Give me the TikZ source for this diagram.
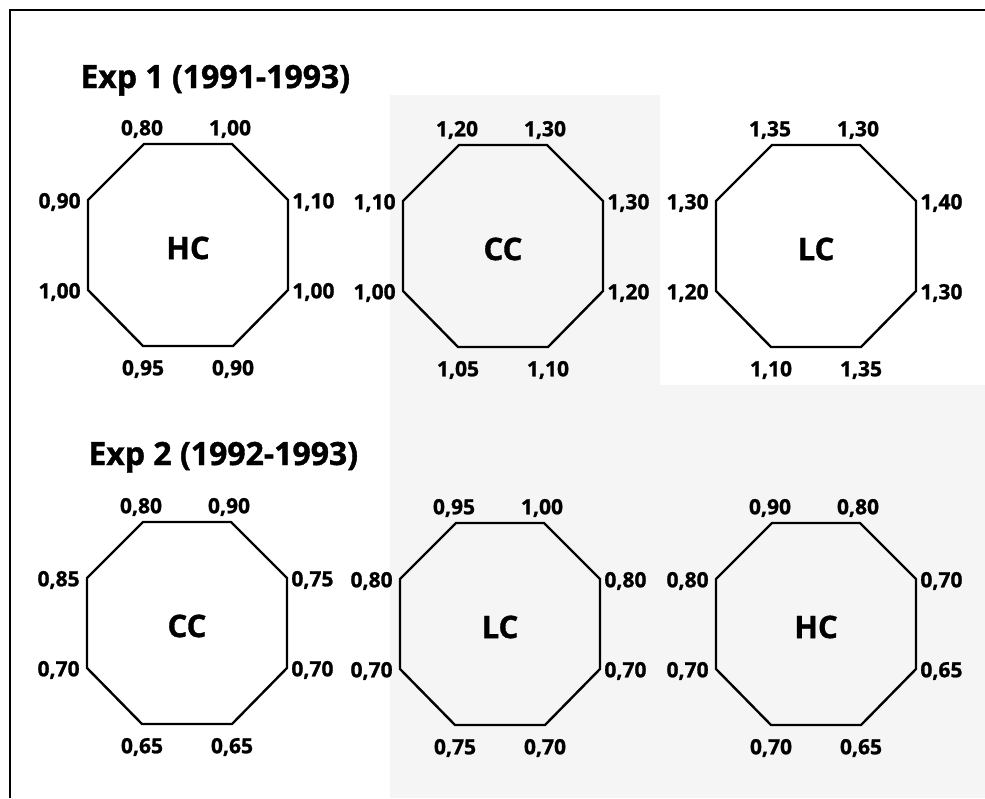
\documentclass[tikz,border=0pt]{standalone}
\usepackage{fontspec}
\setmainfont{Open Sans}[BoldFeatures={FakeBold=1.2}]
\tikzset{
  octline/.style={draw=black, line width=1.2pt, line join=miter},
  cname/.style={font=\bfseries\fontsize{15.5}{18}\selectfont, inner sep=0pt},
  num/.style={font=\bfseries\fontsize{10.5}{12}\selectfont, inner sep=0pt},
  ttl/.style={font=\bfseries\fontsize{16}{19}\selectfont, inner sep=0pt, anchor=base west},
  framel/.style={draw=black, line width=1.4pt},
  speck/.style={fill=black!4, draw=none}
}
\newcommand\octagon[4]{%
  \begin{scope}[shift={(#2,#3)}]
    \coordinate (#1-1) at (-44,-101);
    \coordinate (#1-2) at (44,-101);
    \coordinate (#1-3) at (100,-45);
    \coordinate (#1-4) at (100,45);
    \coordinate (#1-5) at (45,101);
    \coordinate (#1-6) at (-45,101);
    \coordinate (#1-7) at (-100,45);
    \coordinate (#1-8) at (-100,-45);
    \draw[octline] (#1-1) -- (#1-2) -- (#1-3) -- (#1-4) -- (#1-5) -- (#1-6) -- (#1-7) -- (#1-8) -- cycle;
    \node[cname] (#1) at (0,3) {#4};
  \end{scope}}
\newcommand\octlabels[9]{%
  \node[num] (#1-l1) at ([shift={(-2,-15)}]#1-1) {#2};
  \node[num] (#1-l2) at ([shift={(-2,-15)}]#1-2) {#3};
  \node[num, anchor=west] (#1-l3) at ([shift={(4,2)}]#1-3) {#4};
  \node[num, anchor=west] (#1-l4) at ([shift={(4,2)}]#1-4) {#5};
  \node[num] (#1-l5) at ([shift={(0,23)}]#1-5) {#6};
  \node[num] (#1-l6) at ([shift={(0,23)}]#1-6) {#7};
  \node[num, anchor=east] (#1-l7) at ([shift={(-7,2)}]#1-7) {#8};
  \node[num, anchor=east] (#1-l8) at ([shift={(-7,2)}]#1-8) {#9};}
\begin{document}
\begin{tikzpicture}[x=0.5pt, y=-0.5pt]
  \useasboundingbox (0,0) rectangle (985,798);
  % faint scan tint
  \path[speck] (390,95) rectangle (660,798);
  \path[speck] (660,385) rectangle (985,798);
  % frame
  \coordinate (fbot) at (10,798);
  \coordinate (fcor) at (10,10);
  \coordinate (fright) at (985,10);
  \draw[framel] (fbot) -- (fcor) -- (fright);
  % titles
  \node[ttl] (exp1) at (80,88) {Exp 1 (1991-1993)};
  \node[ttl] (exp2) at (88,465) {Exp 2 (1992-1993)};
  % Exp 1
  \octagon{a}{188}{245}{HC}
  \octlabels{a}{0,80}{1,00}{1,10}{1,00}{0,90}{0,95}{1,00}{0,90}
  \octagon{b}{503}{246}{CC}
  \octlabels{b}{1,20}{1,30}{1,30}{1,20}{1,10}{1,05}{1,00}{1,10}
  \octagon{c}{816}{246}{LC}
  \octlabels{c}{1,35}{1,30}{1,40}{1,30}{1,35}{1,10}{1,20}{1,30}
  % Exp 2
  \octagon{d}{187}{623}{CC}
  \octlabels{d}{0,80}{0,90}{0,75}{0,70}{0,65}{0,65}{0,70}{0,85}
  \octagon{e}{500}{624}{LC}
  \octlabels{e}{0,95}{1,00}{0,80}{0,70}{0,70}{0,75}{0,70}{0,80}
  \octagon{f}{816}{624}{HC}
  \octlabels{f}{0,90}{0,80}{0,70}{0,65}{0,65}{0,70}{0,70}{0,80}
\end{tikzpicture}
\end{document}
